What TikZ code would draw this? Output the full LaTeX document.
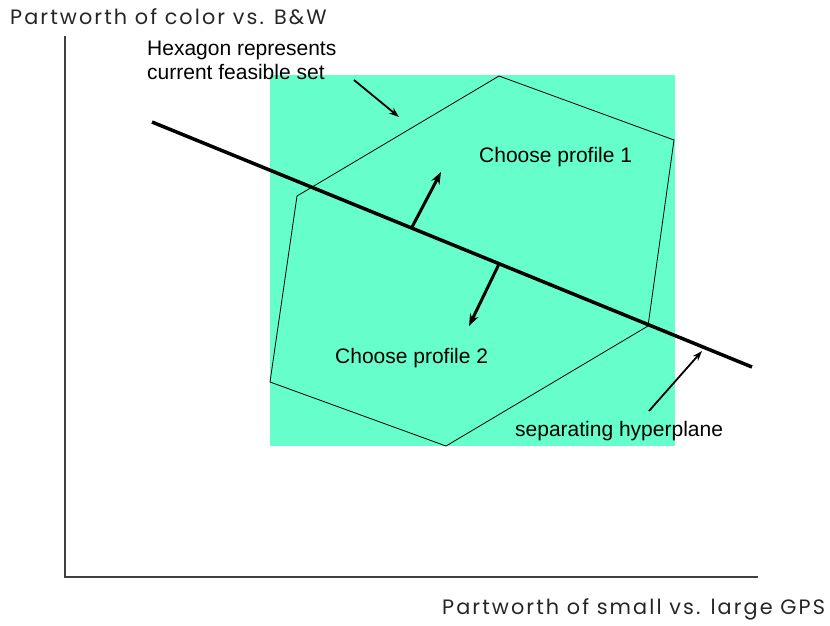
\documentclass[tikz,border=0pt]{standalone}
\usepackage{fontspec}
\setmainfont{Liberation Sans}
\newfontfamily\axisfont[LetterSpace=10]{Poppins}
\usetikzlibrary{arrows.meta}
\definecolor{feas}{HTML}{66FFCC}
\begin{document}
\begin{tikzpicture}[x=1pt,y=-1pt,
  lbl/.style={font=\fontsize{21}{24}\selectfont, inner sep=0pt, anchor=base west},
  axlbl/.style={font=\axisfont\fontsize{20.8}{24}\selectfont, inner sep=0pt, anchor=base west, text=black!85},
  hexedge/.style={line width=0.8pt, line join=miter},
  sepline/.style={line width=3.5pt},
  normarrow/.style={line width=3pt, -{Stealth[length=12pt,width=9pt]}},
  ptr/.style={line width=1.8pt, -{Stealth[length=10pt,width=7pt]}},
  axis/.style={line width=1.2pt, draw=black!75}]
\useasboundingbox (0,0) rectangle (830,625);
% feasible region background
\fill[feas] (270,75) rectangle (675,446);
% axes
\coordinate (ytop) at (65,36);
\coordinate (org) at (65,577);
\coordinate (xend) at (758,577);
\draw[axis] (ytop) -- (org) -- (xend);
% hexagon
\coordinate (h1) at (499,76);
\coordinate (h2) at (674,140);
\coordinate (h3) at (648,326);
\coordinate (h4) at (446,446);
\coordinate (h5) at (270,382);
\coordinate (h6) at (297,196);
\draw[hexedge] (h1) -- (h2) -- (h3) -- (h4) -- (h5) -- (h6) -- cycle;
% separating hyperplane
\coordinate (sA) at (152,122);
\coordinate (sB) at (752,367);
\draw[sepline] (sA) -- (sB);
% normal arrows
\coordinate (n1s) at (411,229);
\coordinate (n1e) at (441,172);
\coordinate (n2s) at (499,264);
\coordinate (n2e) at (469,326);
\draw[normarrow] (n1s) -- (n1e);
\draw[normarrow] (n2s) -- (n2e);
% labels
\node[lbl] (hexlbl1) at (147,55) {Hexagon represents};
\node[lbl] (hexlbl2) at (147,79) {current feasible set};
\coordinate (hp1) at (354,80);
\coordinate (hp2) at (399,117);
\draw[ptr] (hp1) -- (hp2);
\node[lbl] (ch1) at (479,162) {Choose profile 1};
\node[lbl] (ch2) at (335,363) {Choose profile 2};
\node[lbl] (sep) at (515,436) {separating hyperplane};
\coordinate (sp1) at (649,411);
\coordinate (sp2) at (702,351);
\draw[ptr] (sp1) -- (sp2);
% axis labels
\node[axlbl] (ylab) at (10,24) {Partworth of color vs. B\&W};
\node[axlbl] (xlab) at (442,614) {Partworth of small vs. large GPS};
\end{tikzpicture}
\end{document}
